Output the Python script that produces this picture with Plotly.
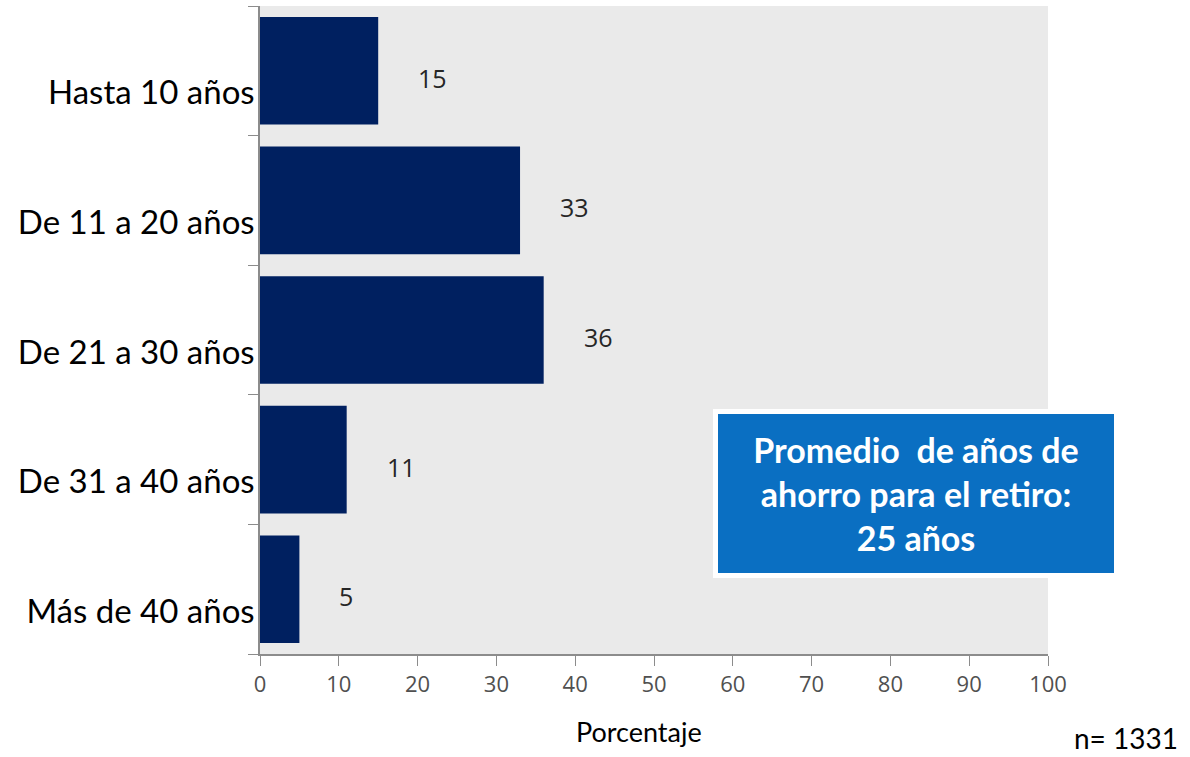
import plotly.graph_objects as go

categorias = ["Hasta 10 años", "De 11 a 20 años", "De 21 a 30 años",
              "De 31 a 40 años", "Más de 40 años"]
porcentajes = [15, 33, 36, 11, 5]
ticks_x = [0, 10, 20, 30, 40, 50, 60, 70, 80, 90, 100]

fig = go.Figure()

fig.add_trace(go.Bar(
    y=categorias,
    x=porcentajes,
    orientation="h",
    marker=dict(color="#002060", line=dict(width=0)),
    width=0.83,
    hoverinfo="x+y",
))

# etiquetas de datos, separadas de la barra
for cat, val in zip(categorias, porcentajes):
    fig.add_annotation(
        x=val, y=cat, text=str(val),
        xanchor="left", xshift=38, yshift=-7,
        showarrow=False,
        font=dict(family="Open Sans, sans-serif", size=25, color="#262626"),
    )

# recuadro del promedio
fig.add_annotation(
    x=0.833, y=0.248, xref="paper", yref="paper",
    text="<b>Promedio  de años de<br>ahorro para el retiro:<br>25 años</b>",
    showarrow=False, align="center", valign="middle",
    width=380, height=143,
    font=dict(family="Lato, sans-serif", size=34, color="white"),
    bgcolor="#0a6fc2", bordercolor="white", borderwidth=5, borderpad=8,
    xanchor="center", yanchor="middle",
)

fig.add_annotation(
    x=0.481, y=-0.119, xref="paper", yref="paper",
    text="Porcentaje", showarrow=False, yanchor="middle",
    font=dict(family="Lato, sans-serif", size=27, color="black"),
)
fig.add_annotation(
    x=1.099, y=-0.130, xref="paper", yref="paper",
    text="n= 1331", showarrow=False, xanchor="center", yanchor="middle",
    font=dict(family="Lato, sans-serif", size=28, color="black"),
)

fig.update_layout(
    width=1190, height=757,
    margin=dict(l=260, r=142, t=6, b=103),
    paper_bgcolor="white",
    plot_bgcolor="#eaeaea",
    showlegend=False,
    xaxis=dict(
        range=[0, 100], tickvals=ticks_x,
        showgrid=False, zeroline=False,
        showline=True, linecolor="#8c8c8c", linewidth=1.5,
        ticks="outside", ticklen=10, tickcolor="#8c8c8c",
        tickfont=dict(family="Open Sans, sans-serif", size=22, color="#505050"),
    ),
    yaxis=dict(
        categoryorder="array", categoryarray=categorias[::-1],
        showgrid=False, zeroline=False,
        showline=True, linecolor="#8c8c8c", linewidth=1.5,
        ticks="outside", ticklen=10, tickcolor="#8c8c8c", tickson="boundaries",
        tickfont=dict(family="Lato, sans-serif", size=33, color="black"),
        ticklabelshift=22, ticklabelstandoff=-3,
    ),
)

fig.write_html("out.html", config={"displayModeBar": False},
               post_script="document.body.style.margin='0';")
